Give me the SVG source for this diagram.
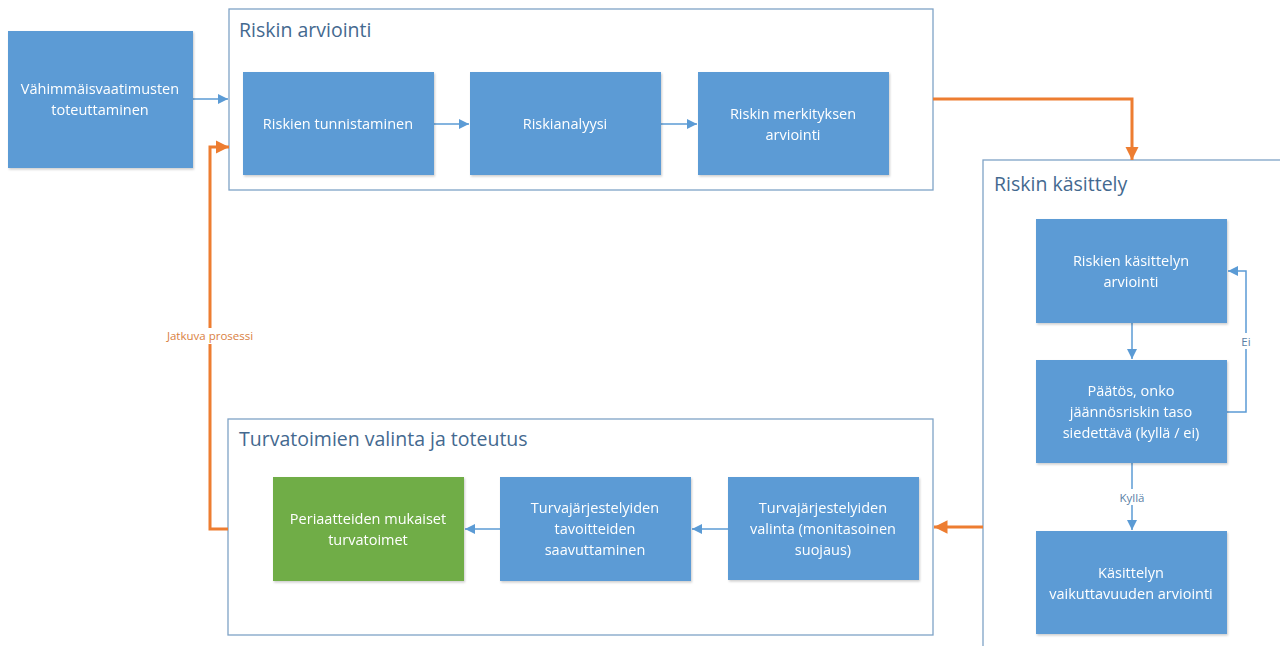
<svg xmlns="http://www.w3.org/2000/svg" width="1280" height="646" viewBox="0 0 1280 646">
<defs>
<style>
.box{fill:#5B9BD5;}
.green{fill:#70AD47;}
.cont{fill:#ffffff;stroke:#7FA3C6;stroke-width:1.3;}
.title{font-family:"Open Sans","Noto Sans",sans-serif;font-size:19.5px;fill:#44698F;}
.t{font-family:"Open Sans","Noto Sans",sans-serif;font-size:14.5px;fill:#ffffff;text-anchor:middle;}
.blue{fill:none;stroke:#5B9BD5;stroke-width:1.5;}
.orange{fill:none;stroke:#ED7D31;stroke-width:3;}
.lbl{font-family:"Open Sans","Noto Sans",sans-serif;font-size:11.5px;text-anchor:middle;}
</style>
<marker id="ab" viewBox="0 0 10 10" refX="10" refY="5" markerWidth="10" markerHeight="10" markerUnits="userSpaceOnUse" orient="auto">
<path d="M0,0 L10,5 L0,10 z" fill="#5B9BD5"/>
</marker>
<marker id="ao" viewBox="0 0 10 10" refX="10" refY="5" markerWidth="4.5" markerHeight="4.5" orient="auto">
<path d="M0,0 L10,5 L0,10 z" fill="#ED7D31"/>
</marker>
<filter id="sh" x="-5%" y="-5%" width="110%" height="115%">
<feDropShadow dx="1" dy="1.5" stdDeviation="1.2" flood-color="#000" flood-opacity="0.2"/>
</filter>
</defs>

<g id="container-arviointi">
<rect class="cont" x="229" y="9" width="704" height="181"/>
<text class="title" x="239" y="37">Riskin arviointi</text>
</g>
<g id="container-kasittely">
<rect class="cont" x="983" y="160" width="310" height="500"/>
<text class="title" x="994" y="191">Riskin käsittely</text>
</g>
<g id="container-turvatoimet">
<rect class="cont" x="228" y="419" width="705" height="216"/>
<text class="title" x="239" y="446">Turvatoimien valinta ja toteutus</text>
</g>

<g id="connectors">
<line class="blue" x1="193" y1="99" x2="228" y2="99" marker-end="url(#ab)"/>
<line class="blue" x1="434" y1="124" x2="469" y2="124" marker-end="url(#ab)"/>
<line class="blue" x1="661" y1="124" x2="697" y2="124" marker-end="url(#ab)"/>
<polyline class="orange" points="933,99 1132,99 1132,160" marker-end="url(#ao)"/>
<line class="blue" x1="1132" y1="323" x2="1132" y2="359" marker-end="url(#ab)"/>
<polyline class="blue" points="1227,412 1246,412 1246,271 1228,271" marker-end="url(#ab)"/>
<line class="blue" x1="1132" y1="463" x2="1132" y2="530" marker-end="url(#ab)"/>
<line class="orange" x1="983" y1="527" x2="934" y2="527" marker-end="url(#ao)"/>
<line class="blue" x1="728" y1="529" x2="692" y2="529" marker-end="url(#ab)"/>
<line class="blue" x1="500" y1="529" x2="465" y2="529" marker-end="url(#ab)"/>
<polyline class="orange" points="228,529 210,529 210,147 229,147" marker-end="url(#ao)"/>
<rect x="1238" y="333" width="16" height="16" fill="#ffffff"/>
<text class="lbl" x="1246" y="346" fill="#5B7FA6">Ei</text>
<rect x="1112" y="489" width="40" height="16" fill="#ffffff"/>
<text class="lbl" x="1132" y="502" fill="#5B7FA6">Kyllä</text>
<rect x="162" y="328" width="96" height="16" fill="#ffffff"/>
<text class="lbl" x="210" y="340" fill="#D9813F">Jatkuva prosessi</text>
</g>

<g id="n-vahimmais" filter="url(#sh)">
<rect class="box" x="8" y="31" width="185" height="137"/>
<text class="t" x="100" y="94">Vähimmäisvaatimusten</text>
<text class="t" x="100" y="115">toteuttaminen</text>
</g>
<g id="n-tunnistaminen" filter="url(#sh)">
<rect class="box" x="243" y="72" width="191" height="103"/>
<text class="t" x="338" y="129">Riskien tunnistaminen</text>
</g>
<g id="n-analyysi" filter="url(#sh)">
<rect class="box" x="470" y="72" width="191" height="103"/>
<text class="t" x="565" y="129">Riskianalyysi</text>
</g>
<g id="n-merkitys" filter="url(#sh)">
<rect class="box" x="698" y="72" width="191" height="103"/>
<text class="t" x="793" y="119">Riskin merkityksen</text>
<text class="t" x="793" y="140">arviointi</text>
</g>
<g id="n-kasittelyn-arviointi" filter="url(#sh)">
<rect class="box" x="1036" y="219" width="191" height="104"/>
<text class="t" x="1131" y="266">Riskien käsittelyn</text>
<text class="t" x="1131" y="287">arviointi</text>
</g>
<g id="n-paatos" filter="url(#sh)">
<rect class="box" x="1036" y="360" width="191" height="103"/>
<text class="t" x="1131" y="396">Päätös, onko</text>
<text class="t" x="1131" y="417">jäännösriskin taso</text>
<text class="t" x="1131" y="438">siedettävä (kyllä / ei)</text>
</g>
<g id="n-vaikuttavuus" filter="url(#sh)">
<rect class="box" x="1036" y="531" width="191" height="103"/>
<text class="t" x="1131" y="578">Käsittelyn</text>
<text class="t" x="1131" y="599">vaikuttavuuden arviointi</text>
</g>
<g id="n-valinta" filter="url(#sh)">
<rect class="box" x="728" y="477" width="191" height="103"/>
<text class="t" x="823" y="513">Turvajärjestelyiden</text>
<text class="t" x="823" y="534">valinta (monitasoinen</text>
<text class="t" x="823" y="555">suojaus)</text>
</g>
<g id="n-tavoitteet" filter="url(#sh)">
<rect class="box" x="500" y="477" width="191" height="104"/>
<text class="t" x="595" y="513">Turvajärjestelyiden</text>
<text class="t" x="595" y="534">tavoitteiden</text>
<text class="t" x="595" y="555">saavuttaminen</text>
</g>
<g id="n-periaatteet" filter="url(#sh)">
<rect class="green" x="273" y="477" width="191" height="104"/>
<text class="t" x="368" y="524">Periaatteiden mukaiset</text>
<text class="t" x="368" y="545">turvatoimet</text>
</g>
</svg>
